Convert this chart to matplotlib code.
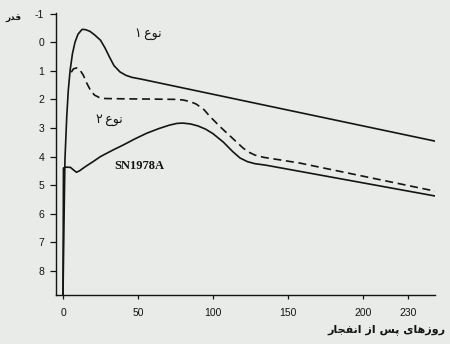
import matplotlib
matplotlib.use("Agg")
import matplotlib.pyplot as plt

# ---- data ----
type1_days = [0, 0.6, 1.3, 2.5, 3.5, 4.7, 6.3, 8, 10, 12.7, 15, 18, 21, 25, 28, 31, 34, 38, 42, 46, 52, 248]
type1_mag = [8.85, 6.5, 4.1, 2.6, 1.7, 1.0, 0.4, 0.0, -0.28, -0.45, -0.44, -0.38, -0.26, -0.07, 0.2, 0.52, 0.82, 1.04, 1.16, 1.23, 1.29, 3.46]

type2_days = [5.5, 7, 9, 11, 13.5, 16, 18.5, 21, 24, 28, 40, 60, 75, 80, 85, 89, 94, 98, 105, 113, 120, 124, 128, 134, 145, 158, 248]
type2_mag = [1.05, 0.93, 0.9, 0.95, 1.15, 1.45, 1.7, 1.85, 1.93, 1.97, 1.98, 1.99, 2.0, 2.02, 2.08, 2.17, 2.36, 2.6, 2.97, 3.36, 3.7, 3.85, 3.95, 4.03, 4.12, 4.23, 5.21]

sn_days = [0, 0.3, 2, 5, 7, 9, 11, 15, 20, 25, 33, 40, 48, 56, 64, 71, 76, 80, 85, 90, 95, 100, 107, 113, 118, 123, 128, 135, 248]
sn_mag = [8.85, 4.4, 4.37, 4.38, 4.47, 4.55, 4.5, 4.35, 4.18, 4.0, 3.78, 3.6, 3.38, 3.18, 3.02, 2.9, 2.84, 2.83, 2.86, 2.93, 3.04, 3.2, 3.5, 3.82, 4.05, 4.18, 4.25, 4.3, 5.38]

x_ticks = [0, 50, 100, 150, 200, 230]
y_ticks = [-1, 0, 1, 2, 3, 4, 5, 6, 7, 8]

# Persian strings, pre-shaped (presentation forms, visual order)
lbl_mag = "\uFEAD\uFEAA\uFED7"                       # قدر
lbl_type1 = "\u06F1\u2009\uFEC9\uFEEE\uFEE7"          # نوع ۱
lbl_type2 = "\u06F2\u2009\uFEC9\uFEEE\uFEE7"          # نوع ۲
lbl_days = ("\uFEAD\uFE8E\uFEA0\uFED4\uFEE7\uFE8D" + " " +
            "\uFEAF\uFE8D" + " " +
            "\uFEB2\uFB58" + " " +
            "\uFEEF\uFE8E\uFEEB\uFEAF\uFEED\uFEAD")     # روزهای پس از انفجار
lbl_sn = "SN1978A"

bg = "#e8ebe8"
ink = "#141414"

fig = plt.figure(figsize=(4.5, 3.44), dpi=100, facecolor=bg)
ax = fig.add_axes([56 / 450, 0.142, 379 / 450, 0.82])
ax.set_facecolor(bg)

ax.plot(type1_days, type1_mag, color=ink, lw=1.2, solid_joinstyle="round")
ax.plot(type2_days, type2_mag, color=ink, lw=1.2, dashes=(4.8, 2.8))
ax.plot(sn_days, sn_mag, color=ink, lw=1.2, solid_joinstyle="round")

ax.set_xlim(-4.67, 248)
ax.set_ylim(8.85, -1.02)

for s in ["top", "right"]:
    ax.spines[s].set_visible(False)
for s in ["left", "bottom"]:
    ax.spines[s].set_color(ink)
    ax.spines[s].set_linewidth(1.0)

ax.set_xticks(x_ticks)
ax.set_xticklabels([str(v) for v in x_ticks], fontfamily="Liberation Sans", fontsize=7.5, color=ink)
ax.set_yticks(y_ticks)
ax.set_yticklabels(["-1" if v == -1 else str(v) for v in y_ticks], fontfamily="Liberation Sans", fontsize=7.5, color=ink)
ax.tick_params(axis="y", direction="out", length=4, width=0.9, pad=4.5, colors=ink)
ax.tick_params(axis="x", direction="out", length=3, width=0.9, pad=6.5, colors=ink)

ax.text(57, -0.3, lbl_type1, fontfamily="DejaVu Sans", fontsize=9, ha="center", va="center", color=ink)
ax.text(31, 2.7, lbl_type2, fontfamily="DejaVu Sans", fontsize=9, ha="center", va="center", color=ink)
ax.text(51, 4.32, lbl_sn, fontfamily="Liberation Serif", fontweight="bold", fontsize=9, ha="center", va="center", color=ink)

fig.text(13 / 450, 1 - 17 / 344, lbl_mag, fontfamily="DejaVu Sans", fontweight="bold", fontsize=6.5, ha="center", va="center", color=ink)
fig.text(446 / 450, 1 - 330 / 344, lbl_days, fontfamily="DejaVu Sans", fontweight="bold", fontsize=8, ha="right", va="center", color=ink)

fig.savefig("out.png", dpi=100, facecolor=bg)
